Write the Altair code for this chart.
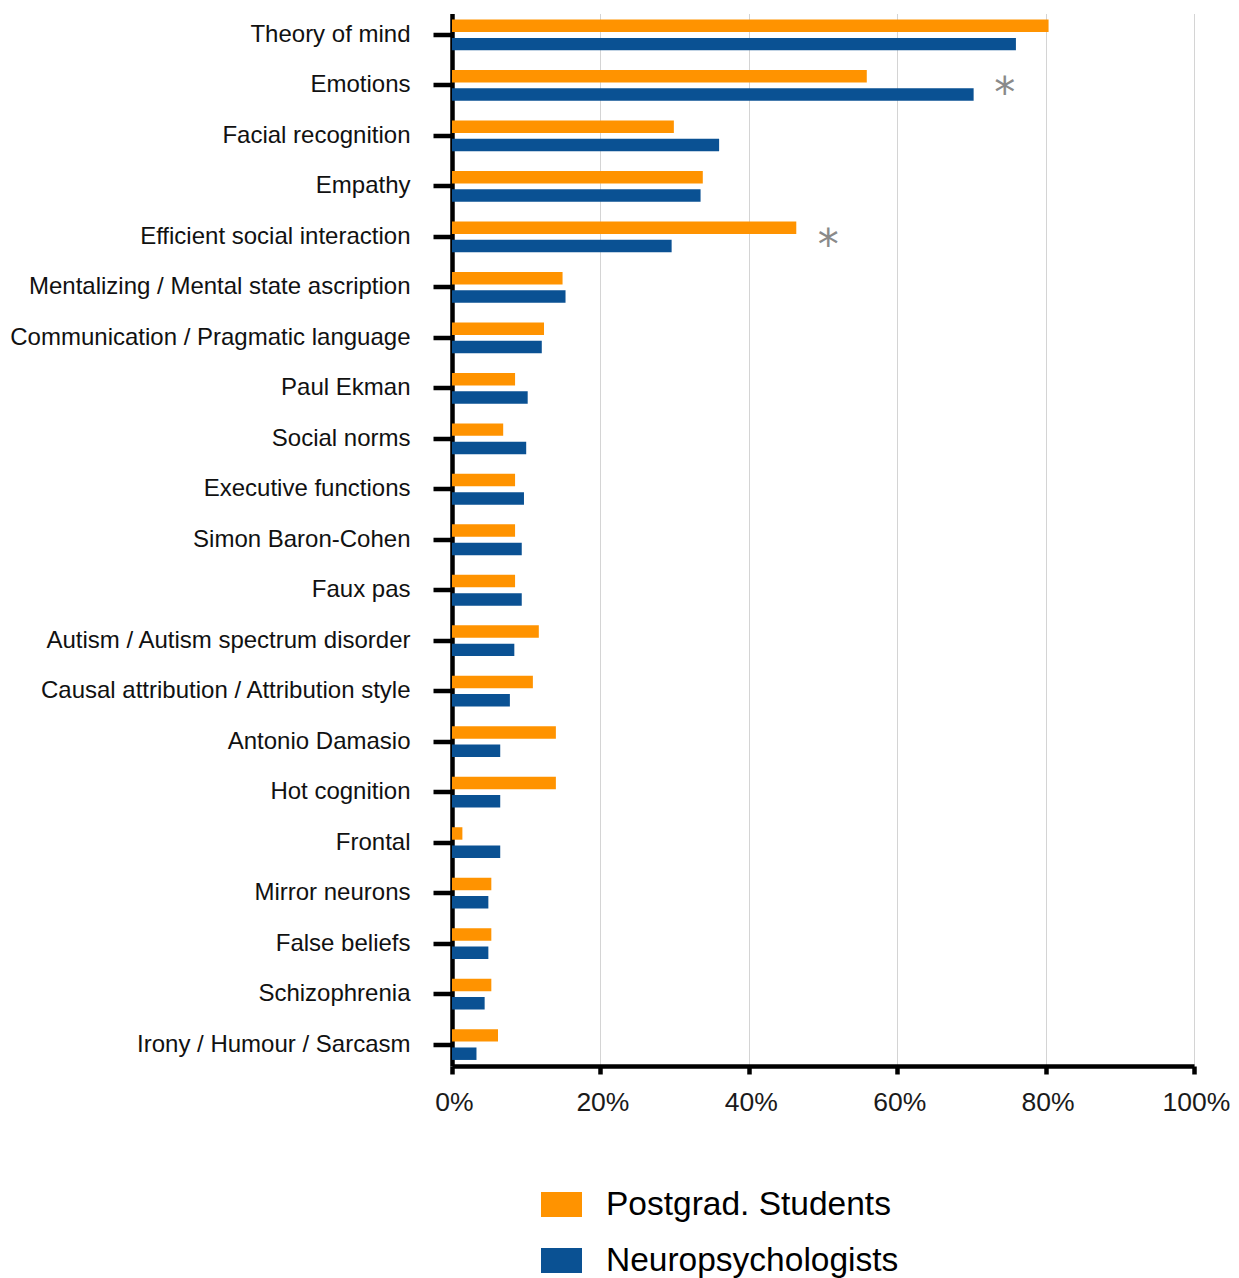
import altair as alt
import pandas as pd

categories = [
    "Theory of mind", "Emotions", "Facial recognition", "Empathy",
    "Efficient social interaction", "Mentalizing / Mental state ascription",
    "Communication / Pragmatic language", "Paul Ekman", "Social norms",
    "Executive functions", "Simon Baron-Cohen", "Faux pas",
    "Autism / Autism spectrum disorder", "Causal attribution / Attribution style",
    "Antonio Damasio", "Hot cognition", "Frontal", "Mirror neurons",
    "False beliefs", "Schizophrenia", "Irony / Humour / Sarcasm",
]
students = [80.4, 55.9, 29.9, 33.8, 46.4, 14.9, 12.4, 8.5, 6.9, 8.5, 8.5,
            8.5, 11.7, 10.9, 14.0, 14.0, 1.4, 5.3, 5.3, 5.3, 6.2]
neuro = [76.0, 70.3, 36.0, 33.5, 29.6, 15.3, 12.1, 10.2, 10.0, 9.7, 9.4,
         9.4, 8.4, 7.8, 6.5, 6.5, 6.5, 4.9, 4.9, 4.4, 3.3]
groups = ["Postgrad. Students", "Neuropsychologists"]
colors = ["#FF9300", "#0A5193"]
star_cats = ["Emotions", "Efficient social interaction"]
star_pos = [74.5, 50.7]
x_ticks = [0, 20, 40, 60, 80, 100]

rows = []
for c, s, n in zip(categories, students, neuro):
    rows.append({"cat": c, "group": groups[0], "val": s})
    rows.append({"cat": c, "group": groups[1], "val": n})
df = pd.DataFrame(rows)
stars = pd.DataFrame({"cat": star_cats, "pos": star_pos, "txt": ["*"] * len(star_cats)})

yscale = alt.Scale(domain=categories, paddingInner=0.39, paddingOuter=0.12)

bars = alt.Chart(df).mark_bar().encode(
    y=alt.Y("cat:N", sort=categories, scale=yscale, title=None,
            axis=alt.Axis(domainColor="black", domainWidth=4.5, tickColor="black",
                          tickWidth=4.5, tickSize=19, labelPadding=23,
                          labelFont="Liberation Sans", labelFontSize=24,
                          labelColor="#111111", labelLimit=600, grid=False)),
    x=alt.X("val:Q", scale=alt.Scale(domain=[0, 100], nice=False), title=None,
            axis=alt.Axis(values=x_ticks, labelExpr="datum.value + '%'",
                          domainColor="black", domainWidth=4.5, tickColor="black",
                          tickWidth=4.5, tickSize=8, labelPadding=15,
                          labelFlush=False, labelOffset=2,
                          labelFont="Liberation Sans", labelFontSize=26.5,
                          labelColor="#1a1a1a", grid=True, gridColor="#d4d4d4",
                          gridWidth=1)),
    yOffset=alt.YOffset("group:N", sort=groups,
                        scale=alt.Scale(domain=groups, paddingInner=0.32, paddingOuter=0)),
    color=alt.Color("group:N", sort=groups,
                    scale=alt.Scale(domain=groups, range=colors),
                    legend=alt.Legend(title=None, orient="none", legendX=89, legendY=1170.5,
                                      direction="vertical",
                                      symbolType="M-1,-0.61H1V0.61H-1Z",
                                      symbolSize=1681, symbolStrokeWidth=0,
                                      labelFont="Liberation Sans", labelFontSize=33.5,
                                      labelColor="black", labelOffset=24,
                                      rowPadding=19, padding=0, labelLimit=600)),
)

star_marks = alt.Chart(stars).mark_text(
    font="DejaVu Sans", fontSize=42, color="#8a8a8a", baseline="alphabetic",
    align="center", dy=22,
).encode(
    y=alt.Y("cat:N", sort=categories, scale=yscale),
    x=alt.X("pos:Q"),
    text="txt:N",
)

chart = alt.layer(bars, star_marks).properties(
    width=742, height=1052.5,
    autosize=alt.AutoSizeParams(type="none"),
    padding={"left": 444, "top": 5.5, "right": 37, "bottom": 212},
).configure_view(stroke=None)

chart.save("out.html", embed_options={"renderer": "svg", "actions": False})
